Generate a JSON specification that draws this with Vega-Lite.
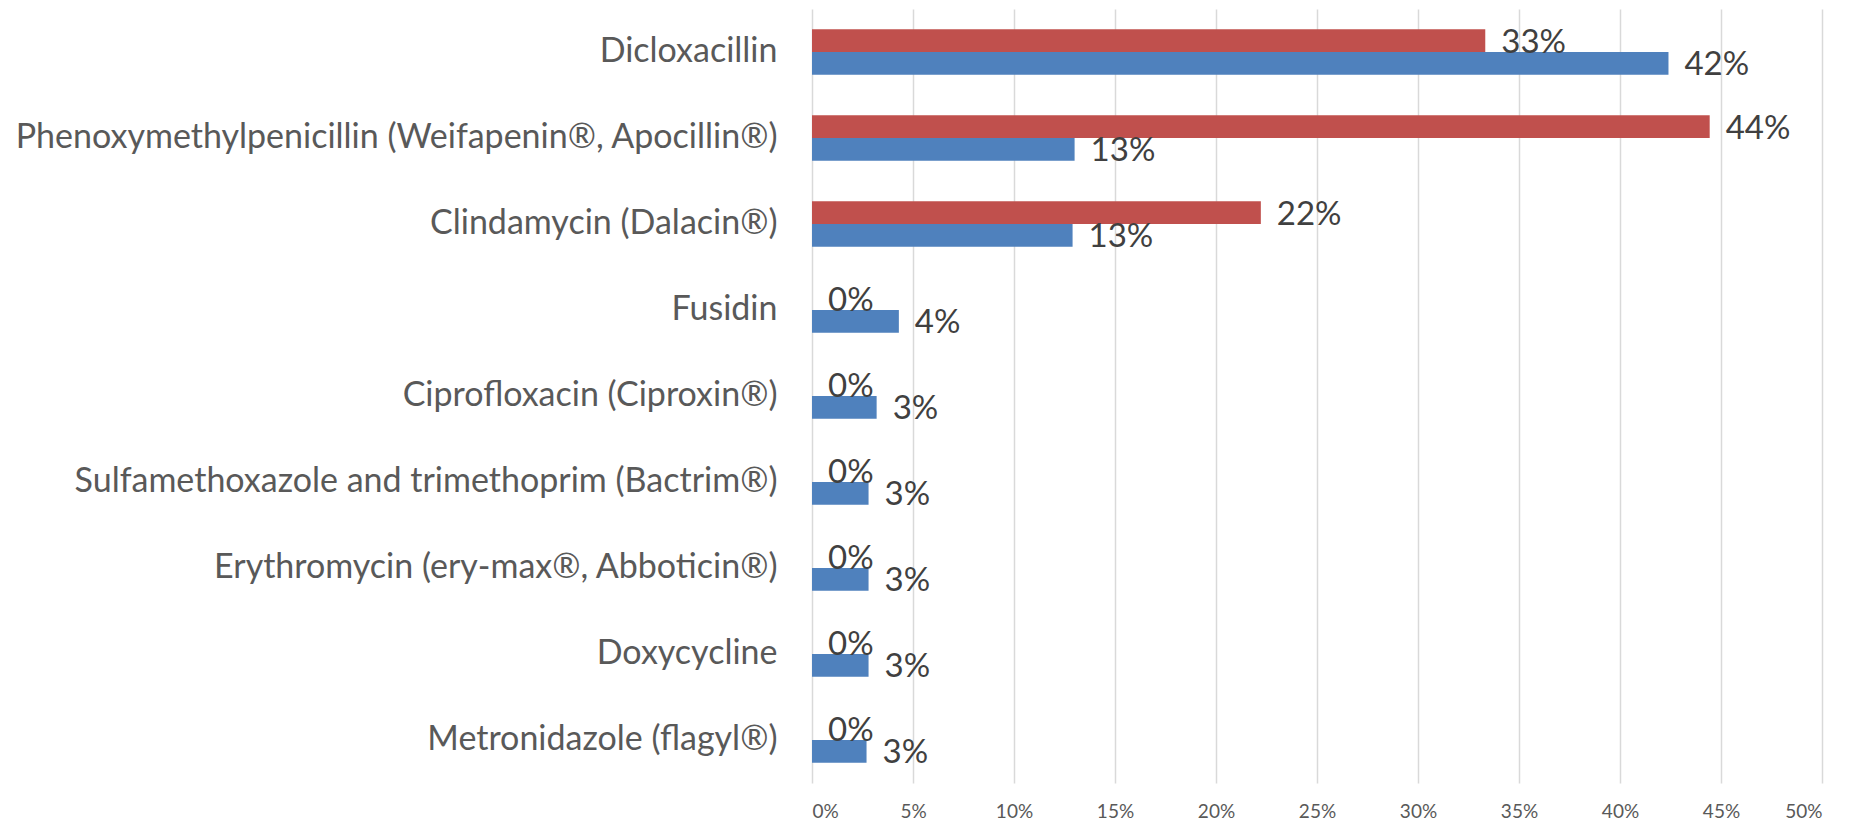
{
  "$schema": "https://vega.github.io/schema/vega-lite/v6.json",
  "autosize": {"type": "none"},
  "padding": {"left": 812, "top": 9, "right": 31, "bottom": 40},
  "width": 1010,
  "height": 774,
  "background": "white",
  "config": {"view": {"stroke": null}, "font": "Lato"},
  "data": {
    "values": [
      {"drug": "Dicloxacillin", "series": "Group A", "value": 0.3333},
      {"drug": "Dicloxacillin", "series": "Group B", "value": 0.424},
      {"drug": "Phenoxymethylpenicillin (Weifapenin®, Apocillin®)", "series": "Group A", "value": 0.4444},
      {"drug": "Phenoxymethylpenicillin (Weifapenin®, Apocillin®)", "series": "Group B", "value": 0.130},
      {"drug": "Clindamycin (Dalacin®)", "series": "Group A", "value": 0.2222},
      {"drug": "Clindamycin (Dalacin®)", "series": "Group B", "value": 0.129},
      {"drug": "Fusidin", "series": "Group A", "value": 0},
      {"drug": "Fusidin", "series": "Group B", "value": 0.043},
      {"drug": "Ciprofloxacin (Ciproxin®)", "series": "Group A", "value": 0},
      {"drug": "Ciprofloxacin (Ciproxin®)", "series": "Group B", "value": 0.032},
      {"drug": "Sulfamethoxazole and trimethoprim (Bactrim®)", "series": "Group A", "value": 0},
      {"drug": "Sulfamethoxazole and trimethoprim (Bactrim®)", "series": "Group B", "value": 0.028},
      {"drug": "Erythromycin (ery-max®, Abboticin®)", "series": "Group A", "value": 0},
      {"drug": "Erythromycin (ery-max®, Abboticin®)", "series": "Group B", "value": 0.028},
      {"drug": "Doxycycline", "series": "Group A", "value": 0},
      {"drug": "Doxycycline", "series": "Group B", "value": 0.028},
      {"drug": "Metronidazole (flagyl®)", "series": "Group A", "value": 0},
      {"drug": "Metronidazole (flagyl®)", "series": "Group B", "value": 0.027}
    ]
  },
  "encoding": {
    "y": {
      "field": "drug",
      "type": "nominal",
      "sort": null,
      "scale": {"paddingInner": 0.47, "paddingOuter": 0.235},
      "axis": {"title": null, "domain": false, "ticks": false, "grid": false, "labelPadding": 35, "labelFontSize": 34, "labelColor": "#595959", "labelLimit": 1000}
    },
    "yOffset": {
      "field": "series",
      "type": "nominal",
      "sort": ["Group A", "Group B"],
      "scale": {"paddingInner": 0, "paddingOuter": 0}
    },
    "x": {
      "field": "value",
      "type": "quantitative",
      "scale": {"domain": [0, 0.5], "nice": false},
      "axis": {"title": null, "format": ".0%", "values": [0, 0.05, 0.1, 0.15, 0.2, 0.25, 0.3, 0.35, 0.4, 0.45, 0.5], "domain": false, "ticks": false, "gridColor": "#D9D9D9", "gridWidth": 1.5, "labelFontSize": 19, "labelColor": "#595959", "labelPadding": 19}
    }
  },
  "layer": [
    {
      "mark": {"type": "bar"},
      "encoding": {
        "color": {"field": "series", "type": "nominal", "scale": {"domain": ["Group A", "Group B"], "range": ["#C0504D", "#4F81BD"]}, "legend": null}
      }
    },
    {
      "mark": {"type": "text", "align": "left", "baseline": "middle", "dx": 16, "dy": 2, "fontSize": 33, "color": "#404040"},
      "encoding": {"text": {"field": "value", "type": "quantitative", "format": ".0%"}}
    }
  ]
}
